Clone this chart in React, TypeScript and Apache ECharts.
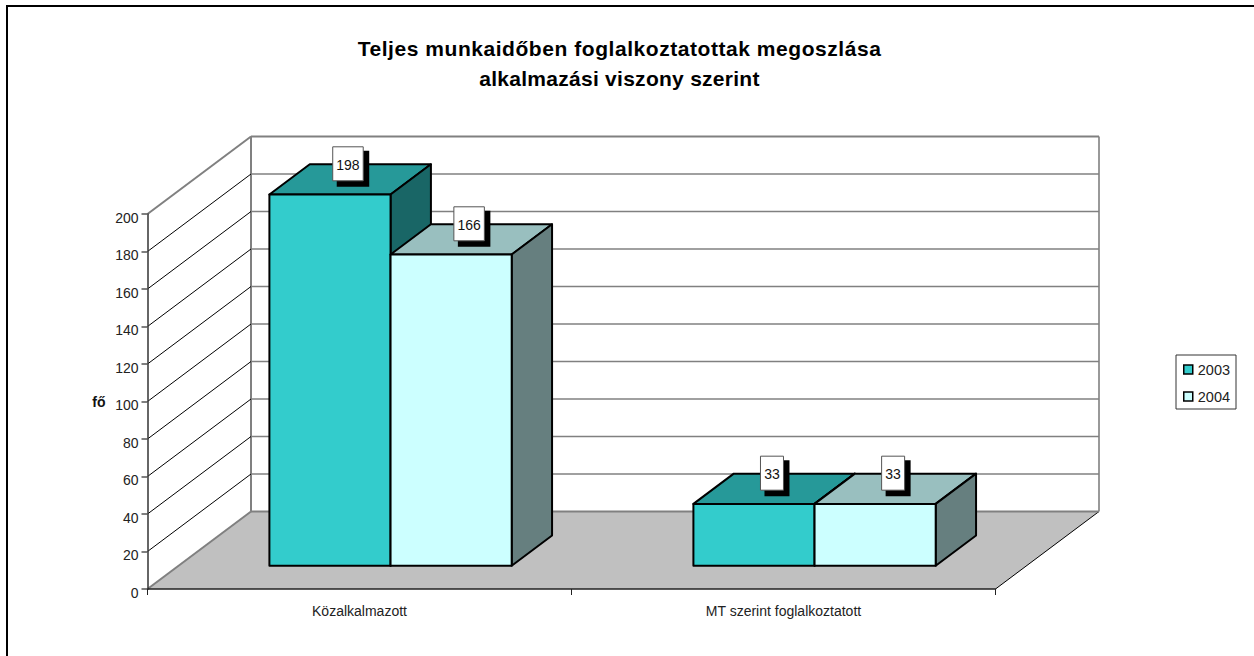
import React, { useEffect, useRef } from "react";
import * as echarts from "echarts";

const titleLine1 = "Teljes munkaidőben foglalkoztatottak megoszlása";
const titleLine2 = "alkalmazási viszony szerint";
const categories = ["Közalkalmazott", "MT szerint foglalkoztatott"];
const yTicks = [0, 20, 40, 60, 80, 100, 120, 140, 160, 180, 200];
const seriesNames = ["2003", "2004"];
const values2003 = [198, 33];
const values2004 = [166, 33];

const FONT = "'Liberation Sans', Arial, sans-serif";
const DEPTH_X = 103.5;
const DEPTH_Y = 77.5;
const FRONT_FRAC = 0.3;
const BAR_DEPTH_FRAC = 0.39;
const BAR_BAND_DIVISOR = 3.5;
const wallGrey = "#808080";
const barColors = [
  { front: "#33CCCC", top: "#269999", side: "#196666" },
  { front: "#CCFFFF", top: "#99BFBF", side: "#667F7F" },
];

function renderWall(params: any, api: any) {
  const tick = api.value(1);
  const cs = params.coordSys;
  const y = api.coord([0, tick])[1];
  const left = cs.x;
  const right = cs.x + cs.width;
  const children: any[] = [];
  const edge = tick === 0 || tick === yTicks[yTicks.length - 1];
  if (tick === 0) {
    children.push({
      type: "polygon",
      shape: {
        points: [
          [left, y],
          [left + DEPTH_X, y - DEPTH_Y],
          [right + DEPTH_X, y - DEPTH_Y],
          [right, y],
        ],
      },
      style: { fill: "#C0C0C0", stroke: "none" },
    });
    children.push({
      type: "line",
      shape: { x1: right, y1: y, x2: right + DEPTH_X, y2: y - DEPTH_Y },
      style: { stroke: "#000", lineWidth: 1 },
    });
    children.push({
      type: "polyline",
      shape: {
        points: [
          [left + DEPTH_X, y - DEPTH_Y],
          [left + DEPTH_X, cs.y - DEPTH_Y],
        ],
      },
      style: { stroke: wallGrey, lineWidth: 2, fill: "none" },
    });
    children.push({
      type: "polyline",
      shape: {
        points: [
          [right + DEPTH_X, y - DEPTH_Y],
          [right + DEPTH_X, cs.y - DEPTH_Y],
        ],
      },
      style: { stroke: "#999999", lineWidth: 2, fill: "none" },
    });
  }
  children.push({
    type: "line",
    shape: { x1: left, y1: y, x2: left + DEPTH_X, y2: y - DEPTH_Y },
    style: { stroke: edge ? wallGrey : "#000", lineWidth: edge ? 2 : 1 },
  });
  children.push({
    type: "line",
    shape: { x1: left + DEPTH_X, y1: y - DEPTH_Y, x2: right + DEPTH_X, y2: y - DEPTH_Y },
    style: { stroke: wallGrey, lineWidth: edge ? 2 : 1.5 },
  });
  return { type: "group", children };
}

function makeBarRenderer(index: number) {
  return (_params: any, api: any) => {
    const cat = api.value(0);
    const val = api.value(1);
    const colors = barColors[index];
    const band = api.size([1, 0])[0];
    const barW = band / BAR_BAND_DIVISOR;
    const [cx, y0] = api.coord([cat, 0]);
    const yv = api.coord([cat, val])[1];
    const fx = FRONT_FRAC * DEPTH_X;
    const fy = FRONT_FRAC * DEPTH_Y;
    const dx = BAR_DEPTH_FRAC * DEPTH_X;
    const dy = BAR_DEPTH_FRAC * DEPTH_Y;
    const x1 = cx + (index - 1) * barW + fx;
    const x2 = x1 + barW;
    const yB = y0 - fy;
    const yT = yv - fy;
    const line = { stroke: "#000", lineWidth: 2, lineJoin: "round" };
    const text = String(val);
    const boxW = text.length * 7.5 + 8;
    const boxH = 34;
    const lx = (x1 + x2) / 2 + 18;
    const ly = yT - 30.7;
    return {
      type: "group",
      children: [
        {
          type: "polygon",
          shape: { points: [[x1, yT], [x1 + dx, yT - dy], [x2 + dx, yT - dy], [x2, yT]] },
          style: { fill: colors.top, ...line },
        },
        {
          type: "polygon",
          shape: { points: [[x2, yT], [x2 + dx, yT - dy], [x2 + dx, yB - dy], [x2, yB]] },
          style: { fill: colors.side, ...line },
        },
        {
          type: "rect",
          shape: { x: x1, y: yT, width: barW, height: yB - yT },
          style: { fill: colors.front, ...line },
        },
        {
          type: "rect",
          shape: { x: lx - boxW / 2 + 4, y: ly - boxH / 2 + 4, width: boxW + 2, height: boxH + 2 },
          style: { fill: "#000" },
        },
        {
          type: "rect",
          shape: { x: lx - boxW / 2, y: ly - boxH / 2, width: boxW, height: boxH },
          style: { fill: "#fff", stroke: "#555", lineWidth: 1 },
        },
        {
          type: "text",
          style: {
            x: lx,
            y: ly + 1,
            text,
            align: "center",
            verticalAlign: "middle",
            fill: "#111",
            font: `14px ${FONT}`,
          },
        },
      ],
    };
  };
}

export default function App() {
  const ref = useRef<HTMLDivElement>(null);
  useEffect(() => {
    document.body.style.margin = "0";
    document.body.style.overflow = "hidden";
    const chart = echarts.init(ref.current!, null, { renderer: "svg" });
    const textBase = { fontFamily: FONT, color: "#222", fontSize: 14 };
    chart.setOption({
      animation: false,
      backgroundColor: "#fff",
      title: [
        {
          text: titleLine1,
          left: 614.5,
          top: 33,
          textAlign: "center",
          textStyle: { fontFamily: FONT, fontWeight: "bold", fontSize: 21, color: "#000" },
        },
        {
          text: titleLine2,
          left: 614.5,
          top: 63,
          textAlign: "center",
          textStyle: { fontFamily: FONT, fontWeight: "bold", fontSize: 21, color: "#000" },
        },
      ],
      legend: {
        orient: "vertical",
        left: 1176,
        top: 355,
        padding: [7, 6, 5, 7],
        itemWidth: 9,
        itemHeight: 9,
        itemGap: 12,
        borderColor: "#333",
        borderWidth: 1,
        borderRadius: 0,
        textStyle: { ...textBase, fontSize: 14.5, padding: [3, 0, 0, 0] },
        data: seriesNames.map((name, i) => ({
          name,
          icon: "rect",
          itemStyle: { color: barColors[i].front, borderColor: "#000", borderWidth: 1.5 },
        })),
      },
      grid: { left: 147.5, top: 214, width: 848, height: 375 },
      xAxis: {
        type: "category",
        data: categories,
        z: 5,
        axisLine: { lineStyle: { color: "#222", width: 1.5 } },
        axisTick: { show: true, length: 6, lineStyle: { color: "#222" } },
        axisLabel: { ...textBase, margin: 15 },
      },
      yAxis: {
        type: "value",
        min: 0,
        max: 200,
        interval: 20,
        z: 5,
        name: "fő",
        nameLocation: "middle",
        nameRotate: 0,
        nameGap: 42,
        nameTextStyle: { fontFamily: FONT, fontWeight: "bold", fontSize: 14, color: "#111", padding: [3, 0, 0, 0] },
        splitLine: { show: false },
        axisLine: { show: true, lineStyle: { color: "#333", width: 1.5 } },
        axisTick: { show: true, length: 6, lineStyle: { color: "#555", width: 1.5 } },
        axisLabel: { ...textBase, margin: 9, verticalAlign: "top", lineHeight: 7 },
      },
      series: [
        {
          type: "custom",
          name: "walls",
          z: 1,
          renderItem: renderWall,
          encode: { x: 0, y: 1 },
          data: yTicks.map((t) => [0, t]),
          silent: true,
        },
        ...[values2003, values2004].map((vals, i) => ({
          type: "custom",
          name: seriesNames[i],
          z: 2 + i,
          renderItem: makeBarRenderer(i),
          encode: { x: 0, y: 1 },
          data: vals.map((v, c) => [c, v]),
        })),
      ],
      graphic: [
        { type: "rect", shape: { x: 6, y: 5, width: 1248, height: 2 }, style: { fill: "#000" } },
        { type: "rect", shape: { x: 6, y: 5, width: 2, height: 651 }, style: { fill: "#000" } },
      ],
    });
    ref.current!.querySelectorAll("text").forEach((t) => {
      if (t.textContent === titleLine1) (t as any).style.letterSpacing = "0.55px";
      if (t.textContent === titleLine2) (t as any).style.letterSpacing = "0.27px";
    });
    return () => chart.dispose();
  }, []);
  return <div ref={ref} style={{ width: 1254, height: 656 }} />;
}
